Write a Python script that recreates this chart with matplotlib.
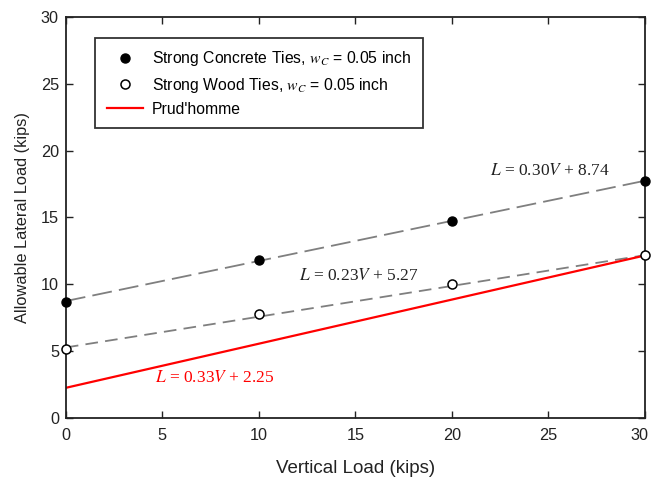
import numpy as np
import matplotlib
matplotlib.use("Agg")
import matplotlib.pyplot as plt
import matplotlib.transforms as mtransforms
from matplotlib.lines import Line2D

plt.rcParams['font.family'] = ['Liberation Sans', 'DejaVu Sans']
plt.rcParams['mathtext.fontset'] = 'stix'

# Test data
vertical_load = [0, 10, 20, 30]
concrete_ties = [8.7, 11.8, 14.7, 17.7]
wood_ties = [5.15, 7.8, 10.0, 12.2]

# Linear fits (slope, intercept)
concrete_fit = (0.30, 8.74)
wood_fit = (0.23, 5.27)
prudhomme_fit = (0.33, 2.25)

fig = plt.figure(figsize=(6.52, 4.82), dpi=100)
ax = fig.add_axes([0.101, 0.133, 0.888, 0.832])

v = np.array([0, 30])
ax.plot(v, concrete_fit[0] * v + concrete_fit[1], color='#7f7f7f', lw=1.3,
        dashes=(11, 4))
ax.plot(v, wood_fit[0] * v + wood_fit[1], color='#7f7f7f', lw=1.3,
        dashes=(7, 4))
ax.plot(v, prudhomme_fit[0] * v + prudhomme_fit[1], color='#ff0000', lw=1.6)

ax.plot(vertical_load, concrete_ties, 'o', color='black', ms=6.5, clip_on=False,
        zorder=5)
ax.plot(vertical_load, wood_ties, 'o', mfc='white', mec='black', mew=1.1, ms=6.5,
        clip_on=False, zorder=5)

eq_kw = dict(family='Liberation Serif', fontsize=12.5)
ax.text(22.0, 18.45, r'$L$ = 0.30$V$ + 8.74', va='center', color='#222222', **eq_kw)
ax.text(12.1, 10.65, r'$L$ = 0.23$V$ + 5.27', va='center', color='#222222', **eq_kw)
ax.text(4.6, 2.95, r'$L$ = 0.33$V$ + 2.25', va='center', color='#ff0000', **eq_kw)

ax.set_xlim(0, 30)
ax.set_ylim(0, 30)
ax.set_xticks(range(0, 31, 5))
ax.set_yticks(range(0, 31, 5))
ax.tick_params(direction='in', top=True, right=True, length=5, width=1,
               labelsize=11.7, colors='#222222')
ax.tick_params(axis='x', pad=7.5)
ax.tick_params(axis='y', pad=5)
for s in ax.spines.values():
    s.set_linewidth(1.3)
    s.set_color('#222222')

# nudge the last x tick label so it stays inside the canvas
fig.canvas.draw()
last = ax.get_xticklabels()[-1]
last.set_transform(last.get_transform() +
                   mtransforms.ScaledTranslation(-4 / 72, 0, fig.dpi_scale_trans))

ax.set_xlabel('Vertical Load (kips)', fontsize=13.5, labelpad=12, color='#222222')
ax.set_ylabel('Allowable Lateral Load (kips)', fontsize=11.8, labelpad=8,
              color='#222222')

handles = [
    Line2D([], [], ls='none', marker='o', color='black', ms=6.5),
    Line2D([], [], ls='none', marker='o', mfc='white', mec='black', mew=1.1, ms=6.5),
    Line2D([], [], color='#ff0000', lw=1.6),
]
labels = [
    r'Strong Concrete Ties, $w_C$ = 0.05 inch',
    r'Strong Wood Ties, $w_C$ = 0.05 inch',
    "Prud'homme",
]
leg = ax.legend(handles, labels, loc='upper left', bbox_to_anchor=(0.050, 0.948),
                fontsize=11.3, frameon=True, fancybox=False, edgecolor='black',
                borderpad=0.75, labelspacing=0.45, handlelength=2.3,
                handletextpad=0.6, borderaxespad=0)
leg.get_frame().set_linewidth(1.3)

fig.savefig('out.png', dpi=100)
